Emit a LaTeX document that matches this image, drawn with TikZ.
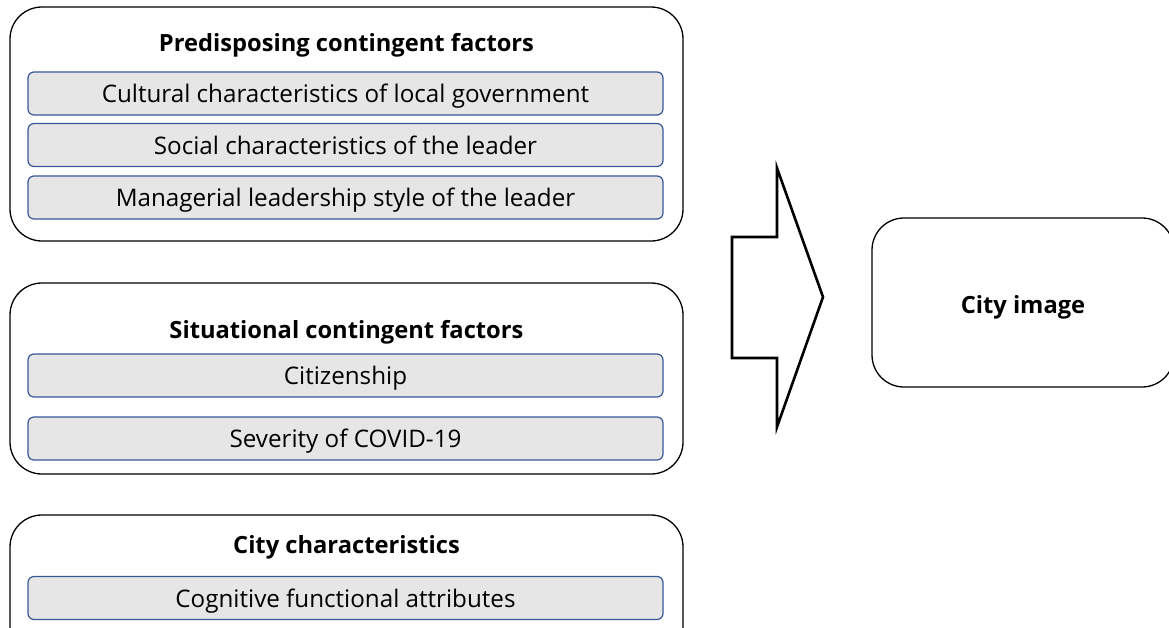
\documentclass[tikz,border=0pt]{standalone}
\usepackage{fontspec}
\setmainfont{Open Sans}
\usepackage{tikz}
\usetikzlibrary{positioning}
\definecolor{itemline}{RGB}{55,88,150}
\definecolor{itemfill}{RGB}{231,230,230}
\tikzset{groupbox/.style={draw, line width=1.3pt, rounded corners=32pt, inner sep=0pt}}
\tikzset{itembox/.style={draw=itemline, line width=1.2pt, fill=itemfill, rounded corners=6pt,
  minimum width=635pt, minimum height=43pt, inner sep=0pt, text height=18pt, text depth=0pt,
  font=\fontsize{24.2}{28}\selectfont}}
\tikzset{grouptitle/.style={anchor=base, font=\fontsize{23.7}{28}\selectfont\bfseries}}

\begin{document}
\begin{tikzpicture}[x=1pt, y=-1pt]
  \clip (0,0) rectangle (1169,627);
  %
  \node[groupbox, minimum width=673pt, minimum height=234pt] (P) at (346.5,124) {};
  \node[grouptitle] (Pt) at (346.5,51) {Predisposing contingent factors};
  \node[itembox] (P1) at (345.5,93.5) {Cultural characteristics of local government};
  \node[itembox] (P2) at (345.5,145) {Social characteristics of the leader};
  \node[itembox] (P3) at (345.5,197.5) {Managerial leadership style of the leader};
  %
  \node[groupbox, minimum width=673pt, minimum height=191pt] (S) at (346.5,378.5) {};
  \node[grouptitle] (St) at (346.5,338) {Situational contingent factors};
  \node[itembox] (S1) at (345.5,375.5) {Citizenship};
  \node[itembox] (S2) at (345.5,438.5) {Severity of COVID-19};
  %
  \node[groupbox, minimum width=673pt, minimum height=150pt] (C) at (346.5,590) {};
  \node[grouptitle] (Ct) at (346.5,553) {City characteristics};
  \node[itembox] (C1) at (345.5,598) {Cognitive functional attributes};
  %
  \node[groupbox, minimum width=302pt, minimum height=169pt] (I) at (1023,302.5) {};
  \node[grouptitle] (It) at (1023,313) {City image};
  %
  \draw[line width=2.6pt, line join=miter] (732,237) -- (777,237) -- (777,168) -- (823,297)
    -- (777,427) -- (777,358) -- (732,358) -- cycle;
\end{tikzpicture}
\end{document}
